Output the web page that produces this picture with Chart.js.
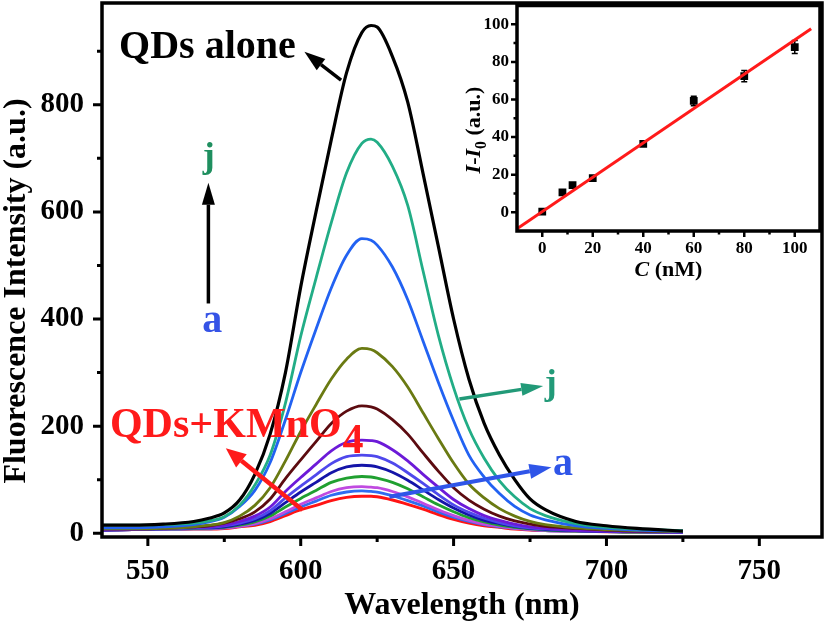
<!DOCTYPE html>
<html>
<head>
<meta charset="utf-8">
<script src="https://cdn.jsdelivr.net/npm/chart.js@4.4.1/dist/chart.umd.min.js"></script>
<style>
  html, body { margin: 0; padding: 0; background: #fff; }
  #wrap { position: relative; width: 827px; height: 627px; }
  #main { position: absolute; left: 0; top: 0; }
  #inset { position: absolute; left: 440px; top: 0; }
</style>
</head>
<body>
<div id="wrap">
  <canvas id="main" width="827" height="627"></canvas>
  <canvas id="inset" width="387" height="300"></canvas>
</div>
<script>
const SERIF = "'Liberation Serif', 'Times New Roman', serif";

// emission spectra
const wavelengths = [535, 545, 555, 565, 570, 575, 580, 585, 590, 595, 600, 605, 610, 615, 620, 623, 625, 630, 635, 640, 645, 650, 655, 660, 665, 670, 675, 680, 690, 700, 710, 725];
const qdsAlone = [15, 15, 17, 22, 28, 38, 62, 110, 185, 300, 460, 600, 735, 860, 935, 948, 945, 890, 805, 672, 536, 400, 288, 205, 146, 100, 64, 44, 22, 14, 9, 4];
const curveJ = [15, 15, 16, 19, 23, 31, 52, 90, 146, 243, 368, 476, 580, 673, 728, 736, 730, 685, 612, 490, 370, 272, 195, 140, 98, 68, 46, 33, 18, 11, 8, 5];
const curveI = [10, 10, 12, 16, 21, 30, 50, 80, 132, 212, 300, 381, 458, 519, 550, 547, 538, 497, 436, 359, 282, 210, 146, 105, 74, 50, 34, 25, 14, 9, 6, 4];
const curveH = [8, 8, 9, 12, 15, 20, 32, 52, 85, 135, 190, 240, 288, 325, 345, 343, 337, 311, 273, 225, 177, 131, 92, 66, 46, 32, 22, 16, 10, 7, 5, 3];
const curveG = [8, 8, 9, 12, 14, 19, 27, 40, 64, 102, 137, 171, 205, 228, 238, 236, 232, 212, 185, 150, 116, 85, 62, 45, 32, 23, 17, 13, 9, 6, 4, 3];
const curveF = [6, 7, 9, 11, 12, 15, 22, 32, 49, 78, 104, 129, 154, 170, 174, 173, 171, 156, 135, 110, 86, 63, 46, 33, 24, 17, 12, 9, 5, 4, 3, 2];
const curveE = [6, 7, 8, 10, 11, 14, 19, 27, 42, 66, 88, 109, 130, 143, 146, 145, 143, 131, 113, 93, 72, 53, 39, 28, 20, 14, 10, 8, 5, 4, 3, 2];
const curveD = [6, 7, 8, 10, 10, 12, 17, 24, 37, 57, 77, 95, 113, 124, 127, 126, 124, 114, 99, 81, 63, 47, 34, 24, 18, 13, 9, 7, 5, 3, 3, 2];
const curveC = [6, 7, 8, 9, 10, 11, 15, 21, 32, 49, 65, 80, 95, 103, 106, 105, 103, 95, 83, 68, 53, 40, 29, 21, 15, 11, 8, 6, 4, 3, 2, 2];
const curveB = [6, 7, 7, 9, 9, 10, 13, 18, 27, 40, 54, 66, 78, 85, 87, 86, 85, 78, 68, 56, 44, 33, 24, 17, 13, 9, 7, 5, 4, 3, 2, 2];
const curveA = [6, 7, 7, 8, 8, 10, 13, 17, 25, 37, 49, 60, 71, 77, 79, 78, 77, 70, 61, 51, 40, 30, 22, 16, 12, 9, 7, 5, 4, 3, 2, 2];
const qdsKMnO4 = [6, 7, 7, 8, 8, 9, 12, 15, 22, 33, 44, 52, 61, 67, 69, 69, 68, 62, 54, 45, 35, 26, 19, 14, 11, 8, 6, 5, 4, 3, 2, 2];

const xTicks = [550, 575, 600, 625, 650, 675, 700, 725, 750];
const xLabels = [550, 600, 650, 700, 750];
const yTicks = [0, 100, 200, 300, 400, 500, 600, 700, 800, 900];
const yLabels = [0, 200, 400, 600, 800];

// inset: I - I0 vs concentration
const concC = [0, 8, 12, 20, 40, 60, 80, 100];
const deltaI = [0.3, 10.6, 14.4, 18.1, 36.4, 59.2, 72.4, 87.9];
const deltaIErr = [1, 1.2, 1.2, 1.2, 1.2, 2.5, 3, 3.5];
const fitC = [-10, 106.5];
const fitI = [-8.8, 97.6];
const insetTicks = [0, 20, 40, 60, 80, 100];
const insetMinor = [10, 30, 50, 70, 90];

const series = [
  { data: qdsKMnO4, color: '#ff1414', width: 3 },
  { data: curveA, color: '#2f6cf0', width: 2.8 },
  { data: curveB, color: '#c04ae0', width: 2.8 },
  { data: curveC, color: '#20a030', width: 2.8 },
  { data: curveD, color: '#1414a8', width: 2.8 },
  { data: curveE, color: '#4f48ec', width: 2.8 },
  { data: curveF, color: '#6c1ad8', width: 2.8 },
  { data: curveG, color: '#5c0b10', width: 2.8 },
  { data: curveH, color: '#6a7a12', width: 2.8 },
  { data: curveI, color: '#2262f2', width: 2.8 },
  { data: curveJ, color: '#22ad86', width: 2.8 },
  { data: qdsAlone, color: '#000000', width: 3.2 }
];

function arrow(ctx, x1, y1, x2, y2, color, lw, head, headW) {
  const a = Math.atan2(y2 - y1, x2 - x1);
  const bx = x2 - head * Math.cos(a), by = y2 - head * Math.sin(a);
  ctx.save();
  ctx.strokeStyle = color;
  ctx.fillStyle = color;
  ctx.lineWidth = lw;
  ctx.beginPath();
  ctx.moveTo(x1, y1);
  ctx.lineTo(bx, by);
  ctx.stroke();
  ctx.beginPath();
  ctx.moveTo(x2, y2);
  ctx.lineTo(bx + headW / 2 * Math.sin(a), by - headW / 2 * Math.cos(a));
  ctx.lineTo(bx - headW / 2 * Math.sin(a), by + headW / 2 * Math.cos(a));
  ctx.closePath();
  ctx.fill();
  ctx.restore();
}

function tickMarks(ctx, scale, values, len, horizontal) {
  ctx.beginPath();
  values.forEach(v => {
    const p = scale.getPixelForValue(v);
    if (horizontal) { ctx.moveTo(p, scale.top); ctx.lineTo(p, scale.top + len); }
    else { ctx.moveTo(scale.right, p); ctx.lineTo(scale.right - len, p); }
  });
  ctx.stroke();
}

// keep the plot box where the figure has it: no extra room for end labels
function fixWidth(w) {
  return s => { s.width = w; s.paddingTop = 0; s.paddingBottom = 0; };
}
function fixHeight(h) {
  return s => { s.height = h; s.paddingLeft = 0; s.paddingRight = 0; };
}

// text made of pieces (italic letters, subscript)
function richText(ctx, parts, x, y, size) {
  const fonts = parts.map(p => (p.italic ? 'italic ' : '') + 'bold ' + (p.sub ? size * 0.72 : size) + 'px ' + SERIF);
  let total = 0;
  const widths = parts.map((p, i) => { ctx.font = fonts[i]; const w = ctx.measureText(p.t).width; total += w; return w; });
  let cx = x - total / 2;
  parts.forEach((p, i) => {
    ctx.font = fonts[i];
    ctx.fillText(p.t, cx, y + (p.sub ? size * 0.28 : 0));
    cx += widths[i];
  });
}

const mainDecor = {
  id: 'mainDecor',
  afterDraw(chart) {
    const { ctx, chartArea: a, scales: { x, y } } = chart;
    const px = v => x.getPixelForValue(v), py = v => y.getPixelForValue(v);
    ctx.save();
    ctx.strokeStyle = '#000';
    ctx.lineWidth = 3.5;
    ctx.strokeRect(a.left, a.top, a.right - a.left, a.bottom - a.top);
    ctx.lineWidth = 3;
    tickMarks(ctx, x, xLabels, 9, true);
    tickMarks(ctx, x, xTicks.filter(v => !xLabels.includes(v)), 5, true);
    tickMarks(ctx, y, yLabels, 9, false);
    tickMarks(ctx, y, yTicks.filter(v => !yLabels.includes(v)), 5, false);

    ctx.fillStyle = '#000';
    ctx.textBaseline = 'alphabetic';
    ctx.textAlign = 'center';
    ctx.font = 'bold 32px ' + SERIF;
    ctx.fillText('Wavelength (nm)', (a.left + a.right) / 2, 614);
    ctx.save();
    ctx.translate(25, 291);
    ctx.rotate(-Math.PI / 2);
    ctx.fillText('Fluorescence Intensity (a.u.)', 0, 0);
    ctx.restore();

    // annotations
    ctx.textAlign = 'left';
    ctx.font = 'bold 40px ' + SERIF;
    ctx.fillText('QDs alone', px(540.6), py(887));
    arrow(ctx, px(613.2), py(846), px(601.2), py(899), '#000', 3.5, 21, 14);

    ctx.textAlign = 'center';
    ctx.fillStyle = '#1f8f5f';
    ctx.font = 'bold 36px ' + SERIF;
    ctx.fillText('j', px(569.9), py(684));
    arrow(ctx, px(569.8), py(429), px(569.8), py(654.5), '#000', 3.5, 22, 13);
    ctx.fillStyle = '#3553e6';
    ctx.font = 'bold 40px ' + SERIF;
    ctx.fillText('a', px(571.1), py(376));

    ctx.textAlign = 'left';
    ctx.fillStyle = '#ff1a1a';
    ctx.font = 'bold 42px ' + SERIF;
    const t = 'QDs+KMnO';
    ctx.fillText(t, px(537.6), py(180));
    ctx.fillText('4', px(537.6) + ctx.measureText(t).width + 1, py(150));
    arrow(ctx, px(600.6), py(43.5), px(575.5), py(158.6), '#ff1a1a', 4.5, 20, 17);

    arrow(ctx, px(651.9), py(250.5), px(679.3), py(275), '#229a78', 3.5, 22, 13);
    ctx.textAlign = 'center';
    ctx.fillStyle = '#229a78';
    ctx.font = 'bold 36px ' + SERIF;
    ctx.fillText('j', px(681.8), py(260));

    arrow(ctx, px(629), py(68), px(682), py(123), '#2f55e8', 4, 22, 15);
    ctx.fillStyle = '#2f55e8';
    ctx.font = 'bold 40px ' + SERIF;
    ctx.fillText('a', px(685.8), py(109));
    ctx.restore();
  }
};

new Chart(document.getElementById('main'), {
  type: 'line',
  data: {
    datasets: series.map(s => ({
      data: wavelengths.map((w, i) => ({ x: w, y: s.data[i] })),
      borderColor: s.color,
      borderWidth: s.width,
      pointRadius: 0,
      fill: false,
      cubicInterpolationMode: 'monotone'
    })).reverse()
  },
  options: {
    responsive: false,
    animation: false,
    layout: { padding: { top: 3, right: 5, left: 0, bottom: 0 } },
    plugins: { legend: { display: false }, tooltip: { enabled: false } },
    scales: {
      x: {
        type: 'linear', min: 535, max: 770.5,
        afterBuildTicks: s => { s.ticks = xTicks.map(v => ({ value: v })); },
        afterFit: fixHeight(90),
        grid: { display: false, drawTicks: false },
        border: { display: false },
        ticks: {
          autoSkip: false, maxRotation: 0, minRotation: 0, padding: 17, color: '#000',
          font: { family: SERIF, size: 29, weight: 'bold' },
          callback: v => xLabels.includes(v) ? String(v) : ''
        }
      },
      y: {
        type: 'linear', min: -7, max: 990,
        afterBuildTicks: s => { s.ticks = yTicks.map(v => ({ value: v })); },
        afterFit: fixWidth(102),
        grid: { display: false, drawTicks: false },
        border: { display: false },
        ticks: {
          autoSkip: false, padding: 18, color: '#000',
          font: { family: SERIF, size: 29, weight: 'bold' },
          callback: v => yLabels.includes(v) ? String(v) : ''
        }
      }
    }
  },
  plugins: [mainDecor]
});

const insetDecor = {
  id: 'insetDecor',
  beforeDatasetsDraw(chart) {
    const { ctx, chartArea: a } = chart;
    ctx.save();
    ctx.fillStyle = '#fff';
    ctx.fillRect(a.left, a.top, a.right - a.left, a.bottom - a.top);
    ctx.restore();
  },
  afterDatasetDraw(chart, args) {
    if (args.index !== 1) return;
    const { ctx, scales: { x, y } } = chart;
    ctx.save();
    ctx.strokeStyle = '#000';
    ctx.lineWidth = 1.5;
    concC.forEach((c, i) => {
      const cx = x.getPixelForValue(c);
      const top = y.getPixelForValue(deltaI[i] + deltaIErr[i]);
      const bot = y.getPixelForValue(deltaI[i] - deltaIErr[i]);
      ctx.beginPath();
      ctx.moveTo(cx, top); ctx.lineTo(cx, bot);
      ctx.moveTo(cx - 3, top); ctx.lineTo(cx + 3, top);
      ctx.moveTo(cx - 3, bot); ctx.lineTo(cx + 3, bot);
      ctx.stroke();
    });
    ctx.restore();
  },
  afterDraw(chart) {
    const { ctx, chartArea: a, scales: { x, y } } = chart;
    ctx.save();
    ctx.strokeStyle = '#000';
    ctx.lineWidth = 3.5;
    ctx.strokeRect(a.left, a.top, a.right - a.left, a.bottom - a.top);
    ctx.lineWidth = 2.5;
    tickMarks(ctx, x, insetTicks, 6, true);
    tickMarks(ctx, x, insetMinor, 3.5, true);
    tickMarks(ctx, y, insetTicks, 6, false);
    tickMarks(ctx, y, insetMinor, 3.5, false);
    ctx.fillStyle = '#000';
    ctx.textBaseline = 'alphabetic';
    richText(ctx, [{ t: 'C', italic: true }, { t: ' (nM)' }], (a.left + a.right) / 2, 276, 22);
    ctx.save();
    ctx.translate(40, 130);
    ctx.rotate(-Math.PI / 2);
    richText(ctx, [{ t: 'I', italic: true }, { t: '-' }, { t: 'I', italic: true }, { t: '0', sub: true }, { t: ' (a.u.)' }], 0, 0, 22);
    ctx.restore();
    ctx.restore();
  }
};

const insetFont = { family: SERIF, size: 17, weight: 'bold' };

new Chart(document.getElementById('inset'), {
  type: 'scatter',
  data: {
    datasets: [
      {
        type: 'line',
        data: fitC.map((c, i) => ({ x: c, y: fitI[i] })),
        borderColor: '#ff1a1a',
        borderWidth: 3,
        pointRadius: 0
      },
      {
        data: concC.map((c, i) => ({ x: c, y: deltaI[i] })),
        pointStyle: 'rect',
        pointRadius: 5.5,
        backgroundColor: '#000',
        borderColor: '#000',
        borderWidth: 0
      }
    ]
  },
  options: {
    responsive: false,
    animation: false,
    layout: { padding: { top: 3, right: 7, left: 0, bottom: 0 } },
    plugins: { legend: { display: false }, tooltip: { enabled: false } },
    scales: {
      x: {
        type: 'linear', min: -10, max: 110,
        afterBuildTicks: s => { s.ticks = insetTicks.map(v => ({ value: v })); },
        afterFit: fixHeight(69),
        grid: { display: false, drawTicks: false },
        border: { display: false },
        ticks: { autoSkip: false, maxRotation: 0, padding: 7, color: '#000', font: insetFont }
      },
      y: {
        type: 'linear', min: -10, max: 110,
        afterBuildTicks: s => { s.ticks = insetTicks.map(v => ({ value: v })); },
        afterFit: fixWidth(77),
        grid: { display: false, drawTicks: false },
        border: { display: false },
        ticks: { autoSkip: false, padding: 8, color: '#000', font: insetFont }
      }
    }
  },
  plugins: [insetDecor]
});
</script>
</body>
</html>
